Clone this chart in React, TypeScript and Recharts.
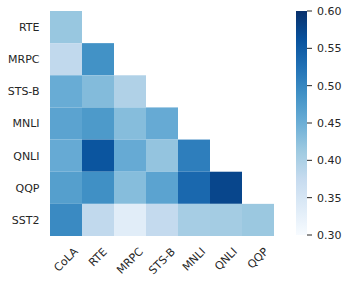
import React from 'react';
import { ScatterChart, Scatter, XAxis, YAxis, BarChart, Bar } from 'recharts';

const rowLabels = ['RTE', 'MRPC', 'STS-B', 'MNLI', 'QNLI', 'QQP', 'SST2'];
const colLabels = ['CoLA', 'RTE', 'MRPC', 'STS-B', 'MNLI', 'QNLI', 'QQP'];

// lower triangle, row i has i+1 values
const rteRow = [0.417];
const mrpcRow = [0.38, 0.488];
const stsbRow = [0.453, 0.432, 0.396];
const mnliRow = [0.465, 0.477, 0.43, 0.455];
const qnliRow = [0.455, 0.558, 0.455, 0.42, 0.51];
const qqpRow = [0.47, 0.49, 0.43, 0.465, 0.535, 0.575];
const sst2Row = [0.497, 0.38, 0.333, 0.377, 0.405, 0.407, 0.415];
const matrix = [rteRow, mrpcRow, stsbRow, mnliRow, qnliRow, qqpRow, sst2Row];

const cbTicks = [0.3, 0.35, 0.4, 0.45, 0.5, 0.55, 0.6];
const vmin = 0.3;
const vmax = 0.6;

const blues = ['#f7fbff', '#deebf7', '#c6dbef', '#9ecae1', '#6baed6', '#4292c6', '#2171b5', '#08519c', '#08306b'];

const hex = (h: string) => [1, 3, 5].map((i) => parseInt(h.slice(i, i + 2), 16));

const colorFor = (v: number) => {
  let t = (v - vmin) / (vmax - vmin);
  t = Math.max(0, Math.min(1, t));
  const p = t * (blues.length - 1);
  const i = Math.min(Math.floor(p), blues.length - 2);
  const f = p - i;
  const a = hex(blues[i]);
  const b = hex(blues[i + 1]);
  const c = a.map((x, k) => Math.round(x + (b[k] - x) * f));
  return `rgb(${c[0]},${c[1]},${c[2]})`;
};

const cells = matrix.flatMap((row, r) => row.map((v, c) => ({ x: c, y: r, v })));

const FONT = '"DejaVu Sans", sans-serif';
const TXT = '#262626';
const CELL_W = 224 / 7;
const CELL_H = 225 / 7;

const adv: Record<string, number> = {
  C: 0.698, o: 0.612, L: 0.557, A: 0.684, R: 0.695, T: 0.611, E: 0.632, M: 0.863,
  P: 0.603, S: 0.635, '-': 0.361, B: 0.686, N: 0.748, I: 0.295, Q: 0.787,
};

const textWidth = (s: string) => s.split('').reduce((a, ch) => a + (adv[ch] ?? 0.62), 0) * 11;

const CellShape = (props: any) => {
  const { cx, cy, payload } = props;
  return (
    <rect
      x={cx - CELL_W / 2}
      y={cy - CELL_H / 2}
      width={CELL_W}
      height={CELL_H}
      fill={colorFor(payload.v)}
    />
  );
};

const RotTick = (props: any) => {
  const { x, payload } = props;
  const label = colLabels[payload.value];
  const w = textWidth(label);
  const yc = 247 + ((w + 8) * 0.707) / 2;
  return (
    <text
      x={x}
      y={yc}
      textAnchor="middle"
      dominantBaseline="central"
      fontSize={11}
      fontFamily={FONT}
      fill={TXT}
      transform={`rotate(-45, ${x}, ${yc})`}
    >
      {label}
    </text>
  );
};

const cbData = [{ name: 'cb', range: [vmin, vmax] }];

export default function App() {
  return (
    <div style={{ position: 'absolute', left: 0, top: 0, width: 349, height: 284, background: '#fff' }}>
      <div style={{ position: 'absolute', left: 0, top: 0 }}>
        <ScatterChart width={349} height={284} margin={{ top: 11, right: 75, bottom: 0, left: 0 }}>
          <XAxis
            type="number"
            dataKey="x"
            domain={[-0.5, 6.5]}
            ticks={[0, 1, 2, 3, 4, 5, 6]}
            height={48}
            axisLine={false}
            tickLine={false}
            tick={<RotTick />}
            interval={0}
          />
          <YAxis
            type="number"
            dataKey="y"
            domain={[-0.5, 6.5]}
            ticks={[0, 1, 2, 3, 4, 5, 6]}
            reversed
            width={50}
            axisLine={false}
            tickLine={false}
            tickSize={6}
            tickMargin={4.5}
            interval={0}
            tickFormatter={(v: number) => rowLabels[v]}
            tick={{ fontSize: 11, fontFamily: FONT, fill: TXT }}
          />
          <Scatter data={cells} shape={<CellShape />} isAnimationActive={false} />
        </ScatterChart>
      </div>
      <div style={{ position: 'absolute', left: 0, top: 0 }}>
        <BarChart
          width={349}
          height={284}
          data={cbData}
          barCategoryGap={0}
          margin={{ top: 11, right: 0, bottom: 49, left: 296 }}
        >
          <defs>
            <linearGradient id="cbGrad" x1="0" y1="1" x2="0" y2="0">
              {blues.map((c, i) => (
                <stop key={c} offset={`${(i / (blues.length - 1)) * 100}%`} stopColor={c} />
              ))}
            </linearGradient>
          </defs>
          <XAxis dataKey="name" hide />
          <YAxis
            orientation="right"
            type="number"
            domain={[vmin, vmax]}
            ticks={cbTicks}
            width={42}
            axisLine={false}
            tickSize={5}
            tickMargin={5}
            interval={0}
            tickLine={{ stroke: TXT }}
            tickFormatter={(v: number) => v.toFixed(2)}
            tick={{ fontSize: 11, fontFamily: FONT, fill: TXT, textAnchor: 'start' }}
          />
          <Bar dataKey="range" fill="url(#cbGrad)" isAnimationActive={false} />
        </BarChart>
      </div>
    </div>
  );
}
